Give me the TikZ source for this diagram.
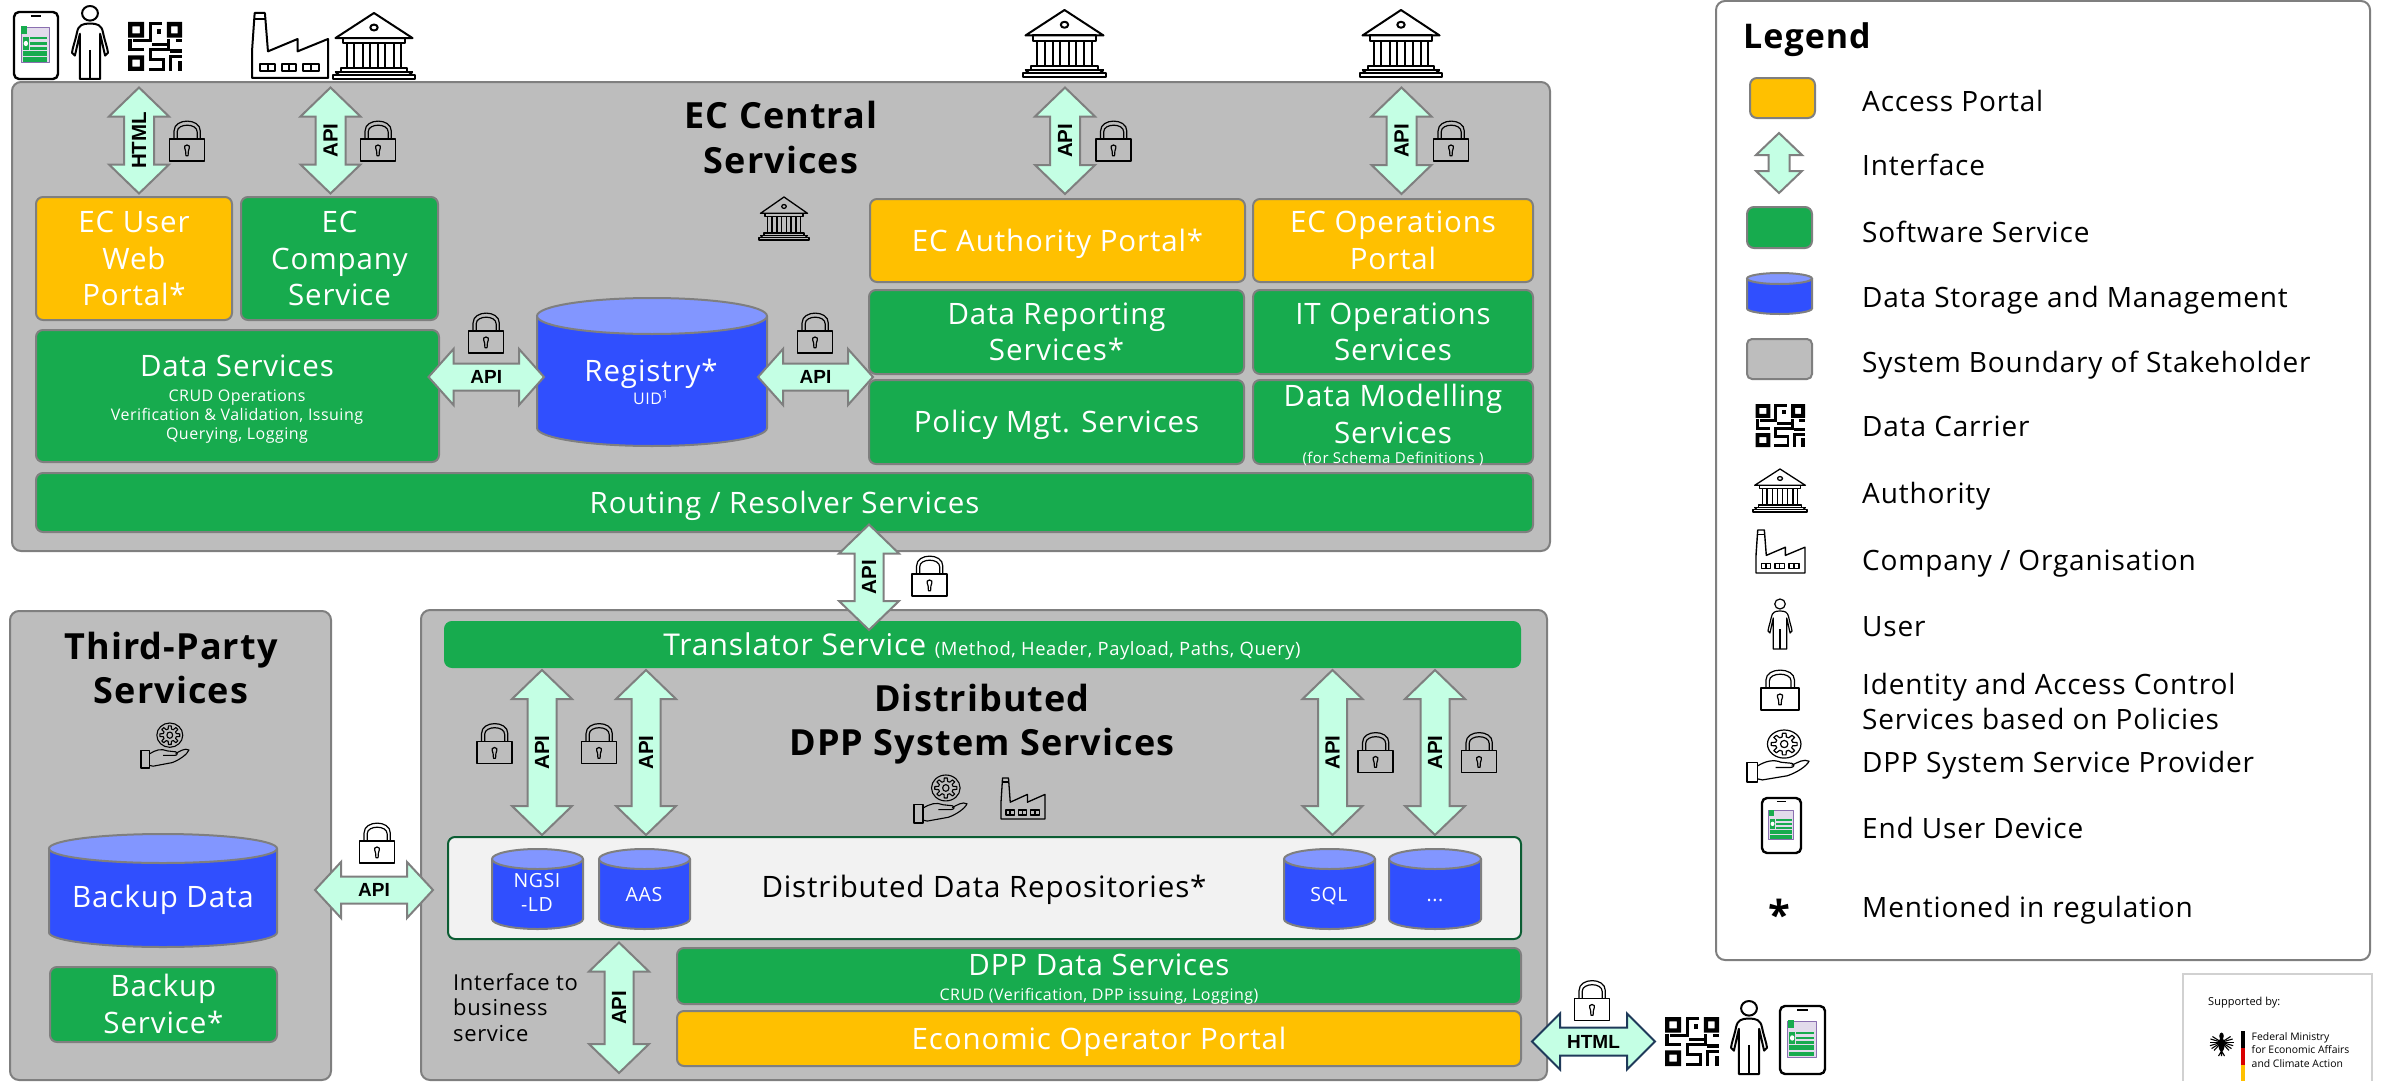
\documentclass[tikz,border=0pt]{standalone}
\usepackage{fontspec}
\setmainfont{Open Sans}[LetterSpace=3.0]
\newfontfamily\labfont{Liberation Sans}
\newfontfamily\plainfont{Open Sans}
\usetikzlibrary{calc}
\definecolor{svcgreen}{HTML}{17AB4E}
\definecolor{amber}{HTML}{FFC000}
\definecolor{sysgrey}{HTML}{BDBDBD}
\definecolor{edgegrey}{HTML}{7F7F7F}
\definecolor{dbblue}{HTML}{304FFE}
\definecolor{dbtop}{HTML}{8296FF}
\definecolor{ifacefill}{HTML}{C4FFE4}
\definecolor{repofill}{HTML}{F2F2F2}
\definecolor{repoedge}{HTML}{0B5D33}
\definecolor{navyedge}{HTML}{1F3A5A}
\definecolor{screenpurple}{HTML}{8A6FB0}
\tikzset{
  capped/.style 2 args={execute at begin node={\rule{0pt}{#1pt}},execute at end node={\rule[-#2pt]{0pt}{#2pt}}},
  lines2/.style={execute at begin node={\rule{0pt}{65.5pt}}},
  lines3/.style={execute at begin node={\rule{0pt}{102pt}}},
  basebox/.style={draw=edgegrey,line width=2pt,rounded corners=7pt,inner sep=0pt,outer sep=0pt,align=center,text=white,font=\fontsize{29.5}{36.5}\selectfont,capped={29}{8}},
  svc/.style={basebox,fill=svcgreen},
  portal/.style={basebox,fill=amber},
  sysbox/.style={basebox,fill=sysgrey,rounded corners=9pt},
  repobox/.style={basebox,fill=repofill,draw=repoedge,text=black},
  legendbox/.style={basebox,fill=white,rounded corners=9pt},
  iface/.style={draw=edgegrey,fill=ifacefill,line width=2pt,line join=miter},
  ifacenavy/.style={iface,draw=navyedge},
  apilab/.style={font=\labfont\bfseries\fontsize{19}{19}\selectfont,text=black,inner sep=0pt},
  apivert/.style={apilab,rotate=90,font=\labfont\bfseries\fontsize{20.5}{20.5}\selectfont},
  title/.style={font=\bfseries\fontsize{36}{44.5}\selectfont,align=center,text=black,inner sep=0pt,capped={33}{7.3}},
  big/.style={font=\fontsize{29.5}{36.5}\selectfont,align=center,text=white,inner sep=0pt,capped={29}{8}},
  small/.style={font=\fontsize{16}{19}\selectfont,align=center,text=white,inner sep=0pt,capped={16}{4.6}},
  cyltext/.style={font=\fontsize{19.5}{24}\selectfont,align=center,text=white,inner sep=0pt,capped={20}{6}},
  legtext/.style={font=\fontsize{28}{35}\selectfont,anchor=west,align=left,text=black,inner sep=0pt,capped={28}{8}},
  note/.style={font=\fontsize{22}{25.5}\selectfont,anchor=west,align=left,text=black,inner sep=0pt,capped={22}{6.3}},
  cyledge/.style={draw=edgegrey,line width=2pt},
}
% box by its corners
\newcommand\bx[7][svc]{\node[#1,minimum width={(#5-(#3))*1pt},minimum height={(#6-(#4))*1pt}] (#2) at ({(#3+#5)/2},{(#4+#6)/2}) {#7};}
% cylinder by its corners, with the height of the top ellipse
\newcommand\cyl[7]{%
  \pgfmathsetmacro\cxx{(#2+#4)/2}\pgfmathsetmacro\rxx{(#4-#2)/2}%
  \fill[dbblue] (#2,#3+#6) -- (#2,#5-#6) .. controls (#2,#5-0.45*#6) and ({\cxx-0.55*\rxx},#5) .. (\cxx,#5)
     .. controls ({\cxx+0.55*\rxx},#5) and (#4,#5-0.45*#6) .. (#4,#5-#6) -- (#4,#3+#6) -- cycle;
  \draw[cyledge] (#2,#3+#6) -- (#2,#5-#6) .. controls (#2,#5-0.45*#6) and ({\cxx-0.55*\rxx},#5) .. (\cxx,#5)
     .. controls ({\cxx+0.55*\rxx},#5) and (#4,#5-0.45*#6) .. (#4,#5-#6) -- (#4,#3+#6);
  \draw[cyledge,fill=dbtop] (\cxx,#3+#6) ellipse [x radius=\rxx,y radius=#6];
  \coordinate (#1) at (\cxx,{(#3+#5)/2});
  #7}
% block double arrow between two named points; args: style, A, B, half head, head length, half shaft
\newcommand\biarrow[6][iface]{%
  \draw[#1] (#2) -- ($(#2)!#5pt!(#3)!#4pt!90:(#3)$) -- ($(#2)!#5pt!(#3)!#6pt!90:(#3)$)
   -- ($(#3)!#5pt!(#2)!#6pt!-90:(#2)$) -- ($(#3)!#5pt!(#2)!#4pt!-90:(#2)$) -- (#3)
   -- ($(#3)!#5pt!(#2)!#4pt!90:(#2)$) -- ($(#3)!#5pt!(#2)!#6pt!90:(#2)$)
   -- ($(#2)!#5pt!(#3)!#6pt!-90:(#3)$) -- ($(#2)!#5pt!(#3)!#4pt!-90:(#3)$) -- cycle;}
\newcommand\vlabel[3]{\node[apivert] (#1) at ($(#2)!.5!(#3)$) {API};}
\newcommand\ico[6]{\begin{scope}[shift={(#1,#2)},xscale={(#3-(#1))/100},yscale={(#4-(#2))/100},line width=#5pt,line join=round]#6\end{scope}}
\newcommand\DrawQR{%
  \fill[even odd rule] (0,0) rectangle (30,32) (8,9) rectangle (22,23);
  \fill[even odd rule] (72,0) rectangle (100,32) (80,9) rectangle (92,23);
  \fill[even odd rule] (0,68) rectangle (30,100) (8,77) rectangle (22,91);
  \foreach \a/\b/\c/\d in {38/0/63/7,38/0/44/41,10/34/44/41,53/15/61/24,0/34/7/60,0/53/29/60,
    44/43/78/49,72/34/78/60,38/53/78/60,88/34/100/41,78/56/100/63,38/53/44/80,38/73/68/80,
    63/73/68/100,38/93/68/100,75/68/100/74,75/68/81/100,92/80/100/100}{\fill (\a,\b) rectangle (\c,\d);}}
\newcommand\DrawAuth{%
  \draw (3,38) -- (50,0) -- (97,38) -- cycle;
  \draw (50,22) ellipse [x radius=4.5,y radius=4.5];
  \draw (12,38) rectangle (88,46);
  \foreach \c in {17,26,36,45,55,64,74,83}{\draw (\c,46) -- (\c,84);}
  \draw (17,46) -- (83,46);
  \draw (10,84) rectangle (90,90);
  \draw (2,90) -- (98,90) (0,100) rectangle (100,94);
  \draw (3,94) -- (7,90) (97,94) -- (93,90);}
\newcommand\DrawFactory{%
  \draw (0,59) -- (3.5,0) -- (17,0) -- (21,59) -- (60,40) -- (60,59) -- (100,40) -- (100,100) -- (0,100) -- cycle;
  \draw (2.5,10) -- (18,10);
  \foreach \a/\b in {11/30,39/58,67/88}{\draw (\a,78) rectangle (\b,90); \draw ({(\a+\b)/2},78) -- ({(\a+\b)/2},90);}}
\newcommand\DrawPerson{%
  \draw (50,10) ellipse [x radius=22,y radius=10];
  \draw (50,24) .. controls (30,24) and (18,26) .. (14,36) .. controls (8,50) and (2,56) .. (0,64) -- (8,68) .. controls (12,60) and (16,50) .. (22,38) -- (22,100) -- (78,100) -- (78,38)
     .. controls (84,50) and (88,60) .. (92,68) -- (100,64) .. controls (98,56) and (92,50) .. (86,36) .. controls (82,26) and (70,24) .. (50,24) -- cycle;
  \draw (50,60) -- (50,100);}
\newcommand\DrawLock{%
  \draw (0,45) rectangle (100,100);
  \draw (13,45) -- (13,25) .. controls (13,-8) and (88,-8) .. (88,25) -- (88,45);
  \draw (22,45) -- (22,27) .. controls (22,5) and (79,5) .. (79,27) -- (79,45);
  \draw (46,75) .. controls (40,62) and (44,60) .. (50,60) .. controls (56,60) and (60,62) .. (54,75) -- (53,87) -- (47,87) -- cycle;}
\newcommand\DrawProvider{%
  \draw (60,27) ellipse [x radius=27,y radius=27];
  \draw (60,27) ellipse [x radius=6,y radius=7];
  \draw ({60+14*cos(-14)},{27+14*sin(-14)}) \foreach \t in {0,45,...,315}{ -- ({60+21*cos(\t-8)},{27+21*sin(\t-8)}) -- ({60+21*cos(\t+8)},{27+21*sin(\t+8)}) -- ({60+14*cos(\t+14)},{27+14*sin(\t+14)}) -- ({60+14*cos(\t+31)},{27+14*sin(\t+31)})} -- cycle;
  \draw (0,62) rectangle (17,100);
  \draw (17,69) .. controls (30,60) and (42,56) .. (55,62) -- (72,64) .. controls (78,66) and (76,72) .. (70,72) -- (46,72);
  \draw (72,68) .. controls (82,62) and (92,55) .. (100,60) .. controls (96,70) and (80,82) .. (65,88) -- (25,96) -- (17,94);}
\newcommand\DrawPhone{%
  \draw[rounded corners=5pt,line width=2.4pt] (0,0) rectangle (100,100);
  \draw[line width=1.6pt] (38,6) -- (62,6);
  \fill[screenpurple!25] (17,23) rectangle (81,76);
  \draw[screenpurple,line width=0.9pt] (17,23) rectangle (81,76);
  \fill[svcgreen] (17,21) rectangle (30,33);
  \foreach \a/\b in {38/41,45/49,52/56}{\fill[svcgreen] (36,\a) rectangle (76,\b);}
  \fill[svcgreen] (21,38) rectangle (33,56);
  \fill[white] (27,47) ellipse [x radius=5,y radius=4];
  \fill[svcgreen] (21,58) rectangle (76,65);
  \fill[svcgreen] (21,67) rectangle (76,74);}
\newcommand\DrawEagle{%
  \fill (50,20) ellipse [x radius=9,y radius=14];
  \fill (50,55) ellipse [x radius=12,y radius=28];
  \foreach \t/\r in {10/42,25/46,40/48,55/48,70/46,85/42}{
    \draw[line width=1.1pt] (50,45) -- ({50+\r*cos(\t-40)},{45+\r*sin(\t-40)*1.1});
    \draw[line width=1.1pt] (50,45) -- ({50-\r*cos(\t-40)},{45+\r*sin(\t-40)*1.1});}
  \draw[line width=1.1pt] (50,80) -- (38,100) (50,80) -- (62,100) (50,80) -- (50,100);}
\begin{document}
\begin{tikzpicture}[x=1pt,y=-1pt]
\useasboundingbox (0,0) rectangle (2381,1081);
% ---- EC central services
\bx[sysbox]{ec}{12}{82}{1550}{551}{}
\node[title] (ectitle) at (781,141) {EC Central\\Services};
\bx[portal,lines3]{userportal}{36}{197}{232}{320}{EC User\\Web\\Portal*}
\bx[svc,lines3]{company}{241}{197}{438}{320}{EC\\Company\\Service}
\bx{dataserv}{36}{330}{439}{462}{}
\node[big] (dstxt) at (237,366) {Data Services};
\node[small] (dssub) at (237,417) {CRUD Operations\\Verification \& Validation, Issuing\\Querying, Logging};
\cyl{registry}{537}{298}{767}{446}{18}{}
\node[big] (regtxt) at (651,371) {Registry*};
\node[small] (uid) at (651,399) {UID\textsuperscript{1}};
\bx{routing}{36}{473}{1533}{532}{Routing / Resolver Services}
\bx[portal]{authportal}{870}{199}{1245}{282}{EC Authority Portal*}
\bx[portal,lines2]{opsportal}{1253}{199}{1533}{282}{EC Operations\\Portal}
\bx[svc,lines2]{reporting}{869}{290}{1244}{374}{Data Reporting\\Services*}
\bx[svc,lines2]{itops}{1253}{290}{1533}{374}{IT Operations\\Services}
\bx{policy}{869}{380}{1244}{464}{Policy Mgt. Services}
\bx{modelling}{1253}{380}{1533}{464}{}
\node[big] (modtxt) at (1393,418) {Data Modelling\\Services};
\node[small,font=\fontsize{15}{15}\selectfont] (modsub) at (1393,458) {(for Schema Definitions )};
% ---- Third-party
\bx[sysbox]{third}{10}{611}{331}{1080}{}
\node[title] (thirdtitle) at (171,671.5) {Third-Party\\Services};
\cyl{backupdata}{49}{834}{277}{947}{14.5}{}
\node[big] (bdtxt) at (163,897) {Backup Data};
\bx[svc,lines2]{backupserv}{50}{967}{277}{1042}{Backup\\Service*}
% ---- Distributed
\bx[sysbox]{dist}{421}{610}{1547}{1080}{}
\bx[svc,draw=svcgreen]{translator}{445}{622}{1520}{667}{}
\node[inner sep=0pt,text=white,capped={29}{8}] (trtxt) at (982,644.5) {\fontsize{30}{30}\selectfont Translator Service \fontsize{18.4}{30}\selectfont (Method, Header, Payload, Paths, Query)};
\node[title] (disttitle) at (982,724) {Distributed\\DPP System Services};
\bx[repobox]{repo}{448}{837}{1521}{939}{}
\node[big,text=black] (repotxt) at (984,887) {Distributed Data Repositories*};
\cyl{ngsi}{492}{849}{583}{929}{10}{}
\node[cyltext] (ngsitxt) at (537,895) {NGSI\\-LD};
\cyl{aas}{599}{849}{690}{929}{10}{}
\node[cyltext] (aastxt) at (644,894.5) {AAS};
\cyl{sql}{1284}{849}{1375}{929}{10}{}
\node[cyltext] (sqltxt) at (1329,894.5) {SQL};
\cyl{more}{1389}{849}{1481}{929}{10}{}
\node[cyltext] (moretxt) at (1435,894.5) {...};
\bx{dppdata}{677}{948}{1521}{1004}{}
\node[big] (dpptxt) at (1099,965) {DPP Data Services};
\node[small] (dppsub) at (1099,994.5) {CRUD (Verification, DPP issuing, Logging)};
\bx[portal]{eop}{677}{1011}{1521}{1066}{Economic Operator Portal}
\node[note] (ifbiz) at (453,1010.5) {Interface to\\business\\service};
% ---- connector end points
\coordinate (a1t) at ($(139,0 |- ec.north)+(0,5.5)$);   \coordinate (a1b) at ($(139,0 |- userportal.north)+(0,-3.5)$);
\coordinate (a2t) at ($(330.5,0 |- ec.north)+(0,5.5)$); \coordinate (a2b) at ($(330.5,0 |- company.north)+(0,-3.5)$);
\coordinate (a3t) at ($(1065,0 |- ec.north)+(0,5.5)$);  \coordinate (a3b) at ($(1065,0 |- authportal.north)+(0,-5)$);
\coordinate (a4t) at ($(1401.5,0 |- ec.north)+(0,5.5)$);\coordinate (a4b) at ($(1401.5,0 |- opsportal.north)+(0,-5)$);
\coordinate (a5l) at ($(dataserv.east |- 0,377)+(-10.5,0)$); \coordinate (a5r) at ($(registry |- 0,377)+(-108,0)$);
\coordinate (a6l) at ($(registry |- 0,377)+(106,0)$); \coordinate (a6r) at ($(reporting.west |- 0,377)+(4,0)$);
\coordinate (a7t) at ($(869,0 |- routing.south)+(0,-7.5)$); \coordinate (a7b) at ($(869,0 |- translator.north)+(0,8)$);
\coordinate (a8l) at ($(third.east |- 0,890)+(-16,0)$); \coordinate (a8r) at ($(dist.west |- 0,890)+(12,0)$);
\coordinate (a9t) at ($(542,0 |- translator.south)+(0,3)$); \coordinate (a9b) at ($(542,0 |- repo.north)+(0,-2)$);
\coordinate (a10t) at ($(646,0 |- translator.south)+(0,3)$); \coordinate (a10b) at ($(646,0 |- repo.north)+(0,-2)$);
\coordinate (a11t) at ($(1332.5,0 |- translator.south)+(0,3)$); \coordinate (a11b) at ($(1332.5,0 |- repo.north)+(0,-2)$);
\coordinate (a12t) at ($(1435,0 |- translator.south)+(0,3)$); \coordinate (a12b) at ($(1435,0 |- repo.north)+(0,-2)$);
\coordinate (a13t) at ($(619,0 |- repo.south)+(0,3.5)$); \coordinate (a13b) at ($(619,0 |- dist.south)+(0,-7)$);
\coordinate (a14l) at ($(eop.east |- 0,1041.5)+(11,0)$); \coordinate (a14r) at (1655,1041.5);
% ---- interface arrows
\biarrow{a1t}{a1b}{30}{29}{15}\node[apivert] (l1) at ($(a1t)!.5!(a1b)$) {HTML};
\biarrow{a2t}{a2b}{30}{29}{15}\vlabel{l2}{a2t}{a2b}
\biarrow{a3t}{a3b}{30}{29}{15}\vlabel{l3}{a3t}{a3b}
\biarrow{a4t}{a4b}{30}{29}{15}\vlabel{l4}{a4t}{a4b}
\biarrow{a5l}{a5r}{28}{25}{13.5}\node[apilab] (l5) at ($(a5l)!.5!(a5r)$) {API};
\biarrow{a6l}{a6r}{28}{25}{13.5}\node[apilab] (l6) at ($(a6l)!.5!(a6r)$) {API};
\biarrow{a7t}{a7b}{30}{29}{14.5}\vlabel{l7}{a7t}{a7b}
\biarrow{a8l}{a8r}{28}{26}{13.5}\node[apilab] (l8) at ($(a8l)!.5!(a8r)$) {API};
\biarrow{a9t}{a9b}{30}{29}{14.5}\vlabel{l9}{a9t}{a9b}
\biarrow{a10t}{a10b}{30}{29}{14.5}\vlabel{l10}{a10t}{a10b}
\biarrow{a11t}{a11b}{30}{29}{14.5}\vlabel{l11}{a11t}{a11b}
\biarrow{a12t}{a12b}{30}{29}{14.5}\vlabel{l12}{a12t}{a12b}
\biarrow{a13t}{a13b}{30}{29}{14.5}\vlabel{l13}{a13t}{a13b}
\biarrow[ifacenavy]{a14l}{a14r}{28}{28}{14}\node[apilab] (l14) at ($(a14l)!.5!(a14r)$) {HTML};
% ---- locks
\foreach \cx/\cy in {187/141,378/141,1113.5/141,1451/141,486/333,815/333,929.5/576,377/843,494.5/743.5,599/743.5,1375.5/752.5,1479/752.5,1592/1000.5}{
  \ico{\cx-17.5}{\cy-20}{\cx+17.5}{\cy+20}{1.2}{\DrawLock}}
% ---- icons above the boxes
\ico{14}{12}{58}{79}{2}{\DrawPhone}
\ico{72}{6}{108}{79}{2}{\DrawPerson}
\ico{128}{22}{182}{71}{2}{\DrawQR}
\ico{252}{13}{328}{78}{2}{\DrawFactory}
\ico{333}{13}{415}{79}{2}{\DrawAuth}
\ico{1023}{10}{1106}{77}{2}{\DrawAuth}
\ico{1360}{10}{1442}{77}{2}{\DrawAuth}
\ico{759}{197}{809}{240}{1.3}{\DrawAuth}
\ico{141}{723}{189}{768}{1.1}{\DrawProvider}
\ico{914}{775}{967}{823}{1.1}{\DrawProvider}
\ico{1001}{778}{1045}{819}{1.3}{\DrawFactory}
\ico{1665}{1017}{1719}{1066}{2}{\DrawQR}
\ico{1731}{1001}{1767}{1074}{2}{\DrawPerson}
\ico{1780}{1006}{1825}{1074}{2}{\DrawPhone}
% ---- legend
\bx[legendbox]{legend}{1716}{1}{2370}{960}{}
\node[title,anchor=west,font=\bfseries\fontsize{34}{40}\selectfont] (legtitle) at (1743,36) {Legend};
\bx[portal]{lg1}{1750}{78}{1815}{118}{}
\coordinate (lg2t) at (1779,133); \coordinate (lg2b) at (1779,193);
\biarrow{lg2t}{lg2b}{23}{22}{10.5}
\bx{lg3}{1747}{207}{1812}{248}{}
\cyl{lg4}{1747}{273}{1812}{314}{5.5}{}
\bx[sysbox,rounded corners=5pt]{lg5}{1747}{339}{1812}{379}{}
\ico{1755.5}{404}{1805}{447}{2}{\DrawQR}
\ico{1753}{469}{1807}{512}{1.3}{\DrawAuth}
\ico{1756}{530}{1805}{573}{1.4}{\DrawFactory}
\ico{1768}{599}{1792}{649}{1.2}{\DrawPerson}
\ico{1761}{670}{1799}{710}{1.2}{\DrawLock}
\ico{1747}{730}{1809}{782}{1.2}{\DrawProvider}
\ico{1762}{798}{1801}{853}{1.8}{\DrawPhone}
\node[font=\bfseries\fontsize{40}{40}\selectfont,inner sep=0pt] (lgstar) at (1779,914) {*};
\node[legtext] (t1) at (1862,101) {Access Portal};
\node[legtext] (t2) at (1862,165) {Interface};
\node[legtext] (t3) at (1862,232) {Software Service};
\node[legtext] (t4) at (1862,297.5) {Data Storage and Management};
\node[legtext] (t5) at (1862,362.5) {System Boundary of Stakeholder};
\node[legtext] (t6) at (1862,426) {Data Carrier};
\node[legtext] (t7) at (1862,493) {Authority};
\node[legtext] (t8) at (1862,560.5) {Company / Organisation};
\node[legtext] (t9) at (1862,626) {User};
\node[legtext] (t10) at (1862,705) {Identity and Access Control\\Services based on Policies};
\node[legtext] (t11) at (1862,762) {DPP System Service Provider};
\node[legtext] (t12) at (1862,828) {End User Device};
\node[legtext] (t13) at (1862,907) {Mentioned in regulation};
% ---- supported by
\draw[draw=black!18,line width=1.5pt] (2372,1081) -- (2372,974) -- (2183,974) -- (2183,1081);
\node[anchor=west,inner sep=0pt,font=\plainfont\fontsize{11}{11}\selectfont] (sup) at (2208,1003) {Supported by:};
\ico{2209}{1031}{2234}{1056}{1}{\DrawEagle}
\fill (2241,1031) rectangle (2245,1048);
\fill[red!85!black] (2241,1048) rectangle (2245,1065);
\fill[amber] (2241,1065) rectangle (2245,1081);
\node[anchor=west,align=left,inner sep=0pt,font=\plainfont\fontsize{10.4}{13.3}\selectfont] (bmwk) at (2251.5,1050) {Federal Ministry\\for Economic Affairs\\and Climate Action};
\end{tikzpicture}
\end{document}
